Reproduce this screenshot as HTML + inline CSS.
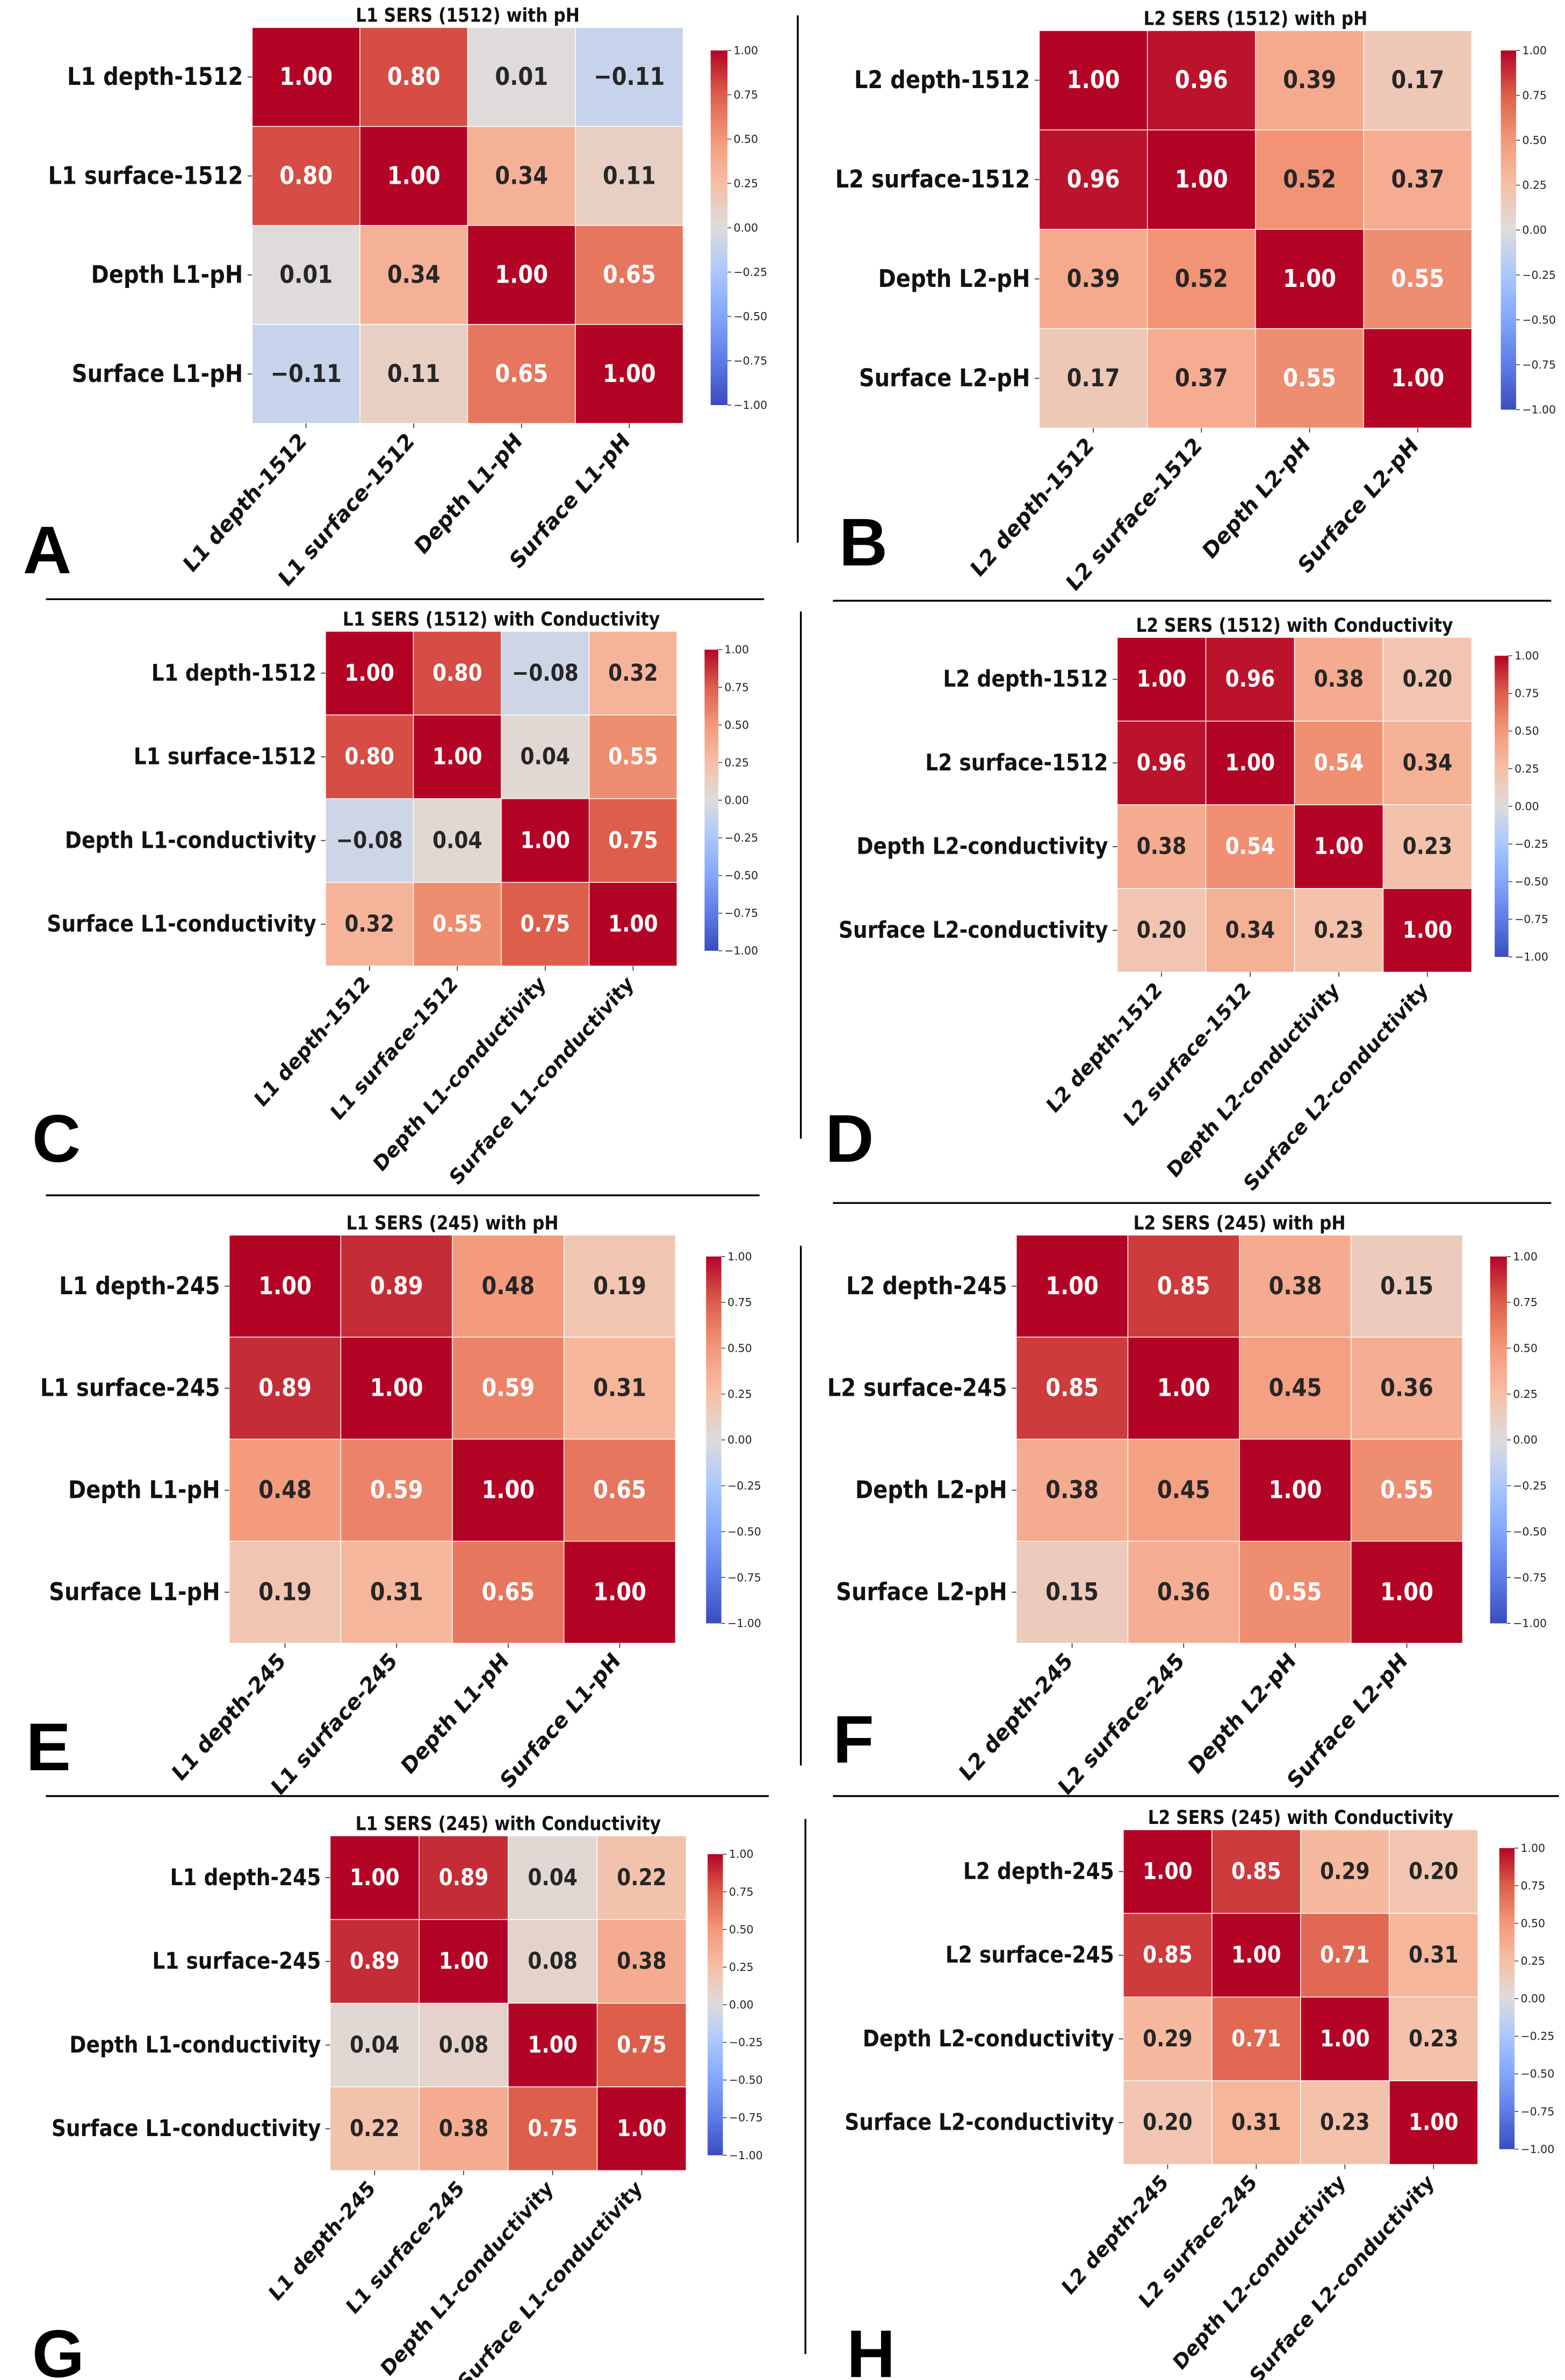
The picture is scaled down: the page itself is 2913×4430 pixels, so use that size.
<!DOCTYPE html>
<html><head><meta charset="utf-8">
<style>html,body{margin:0;padding:0;background:#fff;}svg{display:block;}</style>
</head><body>
<svg id="fig" xmlns="http://www.w3.org/2000/svg" width="2913" height="4430" viewBox="0 0 1024 1557" preserveAspectRatio="none">
<defs>
<linearGradient id="cw" x1="0" y1="1" x2="0" y2="0">
<stop offset="0" stop-color="#3b4cc0"/><stop offset="0.125" stop-color="#5d7ce6"/><stop offset="0.25" stop-color="#82a6fb"/><stop offset="0.375" stop-color="#aac7fd"/><stop offset="0.5" stop-color="#dddcdc"/><stop offset="0.625" stop-color="#f6bfa6"/><stop offset="0.75" stop-color="#f4987a"/><stop offset="0.875" stop-color="#dd5f4b"/><stop offset="1" stop-color="#b40426"/>
</linearGradient>
</defs>
<g id="root"></g>
</svg>
<script>
const NS='http://www.w3.org/2000/svg';
const root=document.getElementById('root');
// data
const labelsA=['L1 depth-1512','L1 surface-1512','Depth L1-pH','Surface L1-pH'];
const valuesA=[[1,0.80,0.01,-0.11],[0.80,1,0.34,0.11],[0.01,0.34,1,0.65],[-0.11,0.11,0.65,1]];
const labelsB=['L2 depth-1512','L2 surface-1512','Depth L2-pH','Surface L2-pH'];
const valuesB=[[1,0.96,0.39,0.17],[0.96,1,0.52,0.37],[0.39,0.52,1,0.55],[0.17,0.37,0.55,1]];
const labelsC=['L1 depth-1512','L1 surface-1512','Depth L1-conductivity','Surface L1-conductivity'];
const valuesC=[[1,0.80,-0.08,0.32],[0.80,1,0.04,0.55],[-0.08,0.04,1,0.75],[0.32,0.55,0.75,1]];
const labelsD=['L2 depth-1512','L2 surface-1512','Depth L2-conductivity','Surface L2-conductivity'];
const valuesD=[[1,0.96,0.38,0.20],[0.96,1,0.54,0.34],[0.38,0.54,1,0.23],[0.20,0.34,0.23,1]];
const labelsE=['L1 depth-245','L1 surface-245','Depth L1-pH','Surface L1-pH'];
const valuesE=[[1,0.89,0.48,0.19],[0.89,1,0.59,0.31],[0.48,0.59,1,0.65],[0.19,0.31,0.65,1]];
const labelsF=['L2 depth-245','L2 surface-245','Depth L2-pH','Surface L2-pH'];
const valuesF=[[1,0.85,0.38,0.15],[0.85,1,0.45,0.36],[0.38,0.45,1,0.55],[0.15,0.36,0.55,1]];
const labelsG=['L1 depth-245','L1 surface-245','Depth L1-conductivity','Surface L1-conductivity'];
const valuesG=[[1,0.89,0.04,0.22],[0.89,1,0.08,0.38],[0.04,0.08,1,0.75],[0.22,0.38,0.75,1]];
const labelsH=['L2 depth-245','L2 surface-245','Depth L2-conductivity','Surface L2-conductivity'];
const valuesH=[[1,0.85,0.29,0.20],[0.85,1,0.71,0.31],[0.29,0.71,1,0.23],[0.20,0.31,0.23,1]];
const cbTicks=[1,0.75,0.5,0.25,0,-0.25,-0.5,-0.75,-1];

const stops=[[0,[59,76,192]],[0.125,[93,124,230]],[0.25,[130,166,251]],[0.375,[170,199,253]],[0.5,[221,220,220]],[0.625,[246,191,166]],[0.75,[244,152,122]],[0.875,[221,95,75]],[1,[180,4,38]]];
function cmap(v){const t=(v+1)/2;for(let i=1;i<stops.length;i++){if(t<=stops[i][0]){const a=stops[i-1],b=stops[i];const f=(t-a[0])/(b[0]-a[0]);const c=a[1].map((x,k)=>Math.round(x+(b[1][k]-x)*f));return 'rgb('+c.join(',')+')';}}return 'rgb(180,4,38)';}
function el(tag,attrs,parent){const e=document.createElementNS(NS,tag);for(const k in attrs)e.setAttribute(k,attrs[k]);(parent||root).appendChild(e);return e;}
const SX=0.88;
function txt(str,x,y,size,opts,parent){opts=opts||{};const t=el('text',{'font-family':'DejaVu Sans, Liberation Sans, sans-serif','font-weight':'bold','font-size':size,'text-anchor':opts.anchor||'start',fill:opts.fill||'#111','dominant-baseline':'central',transform:'translate('+x+','+y+') scale('+SX+',1)'+(opts.rot?' rotate('+opts.rot+')':'')},parent);t.textContent=str;return t;}
function fmt(v){return (v<0?'\u2212':'')+Math.abs(v).toFixed(2);}

const panels=[
{id:'a',title:'L1 SERS (1512) with pH',labels:labelsA,vals:valuesA,box:[165,18,447,277],cb:[465,33,476,265],letter:'A',lp:[15,375],fs:16},
{id:'b',title:'L2 SERS (1512) with pH',labels:labelsB,vals:valuesB,box:[680,20,963,280],cb:[982,33,992,268],letter:'B',lp:[549,370],fs:16},
{id:'c',title:'L1 SERS (1512) with Conductivity',labels:labelsC,vals:valuesC,box:[213,413,443,632],cb:[461,425,470,622],letter:'C',lp:[21,760],fs:15},
{id:'d',title:'L2 SERS (1512) with Conductivity',labels:labelsD,vals:valuesD,box:[731,417,963,636],cb:[978,429,987,626],letter:'D',lp:[540,760],fs:15},
{id:'e',title:'L1 SERS (245) with pH',labels:labelsE,vals:valuesE,box:[150,808,442,1075],cb:[462,822,472,1062],letter:'E',lp:[17,1158],fs:16},
{id:'f',title:'L2 SERS (245) with pH',labels:labelsF,vals:valuesF,box:[665,808,957,1075],cb:[975,822,986,1062],letter:'F',lp:[545,1153],fs:16},
{id:'g',title:'L1 SERS (245) with Conductivity',labels:labelsG,vals:valuesG,box:[216,1201,449,1420],cb:[463,1213,473,1410],letter:'G',lp:[21,1555],fs:15},
{id:'h',title:'L2 SERS (245) with Conductivity',labels:labelsH,vals:valuesH,box:[735,1197,967,1416],cb:[981,1209,991,1406],letter:'H',lp:[554,1555],fs:15}
];

panels.forEach(p=>{
  const g=el('g',{});
  
  
  const [x0,y0,x1,y1]=p.box;const n=p.labels.length;
  const cw=(x1-x0)/n,ch=(y1-y0)/n;
  const xS=i=>x0+i*cw, yS=j=>y0+j*ch;
  const tt=txt(p.title,(x0+x1)/2,y0-8,12.5,{anchor:'middle'},g);
  
  
  p.vals.forEach((row,j)=>row.forEach((v,i)=>{
    const r=el('rect',{x:xS(i),y:yS(j),width:cw,height:ch,fill:cmap(v),stroke:'#fff','stroke-width':0.5},g);
    
    
    const t=txt(fmt(v),xS(i)+cw/2,yS(j)+ch/2,p.fs,{anchor:'middle',fill:v>0.53?'#fff':'#262626'},g);
    
    
  }));
  p.labels.forEach((lab,j)=>{
    const yc=yS(j)+ch/2;
    el('line',{x1:x0-3,y1:yc,x2:x0,y2:yc,stroke:'#333','stroke-width':0.6},g);
    const t=txt(lab,x0-6,yc,p.fs,{anchor:'end'},g);
    
    
  });
  p.labels.forEach((lab,i)=>{
    const xc=xS(i)+cw/2;
    el('line',{x1:xc,y1:y1,x2:xc,y2:y1+3,stroke:'#333','stroke-width':0.6},g);
    const t=txt(lab,xc-2,y1+9,p.fs*0.93,{anchor:'end',rot:-45},g);
    
    
  });
  const [cx0,cy0,cx1,cy1]=p.cb;
  const cb=el('rect',{x:cx0,y:cy0,width:cx1-cx0,height:cy1-cy0,fill:'url(#cw)'},g);
  
  
  const cy=v=>cy1-(v+1)/2*(cy1-cy0);
  cbTicks.forEach(v=>{
    el('line',{x1:cx1,y1:cy(v),x2:cx1+2.5,y2:cy(v),stroke:'#333','stroke-width':0.5},g);
    const t=el('text',{x:cx1+4,y:cy(v),'font-family':'DejaVu Sans, sans-serif','font-size':7.2,fill:'#222','dominant-baseline':'central'},g);
    t.textContent=fmt(v);
    
    
  });
  const L=el('text',{x:p.lp[0],y:p.lp[1],'font-family':'Liberation Sans, sans-serif','font-weight':'bold','font-size':44,fill:'#000'},g);
  L.textContent=p.letter;
  
  
});

const dividers=[[522,10,522,355],[30,392,500,392],[545,393,1015,393],[524,400,524,745],[30,782,497,782],[545,787,1015,787],[524,815,524,1155],[30,1175,503,1175],[545,1175,1020,1175],[527,1190,527,1540]];
dividers.forEach(d=>{
  const l=el('line',{x1:d[0],y1:d[1],x2:d[2],y2:d[3],stroke:'#000','stroke-width':1.2});
  
  
});
</script>
</body></html>
